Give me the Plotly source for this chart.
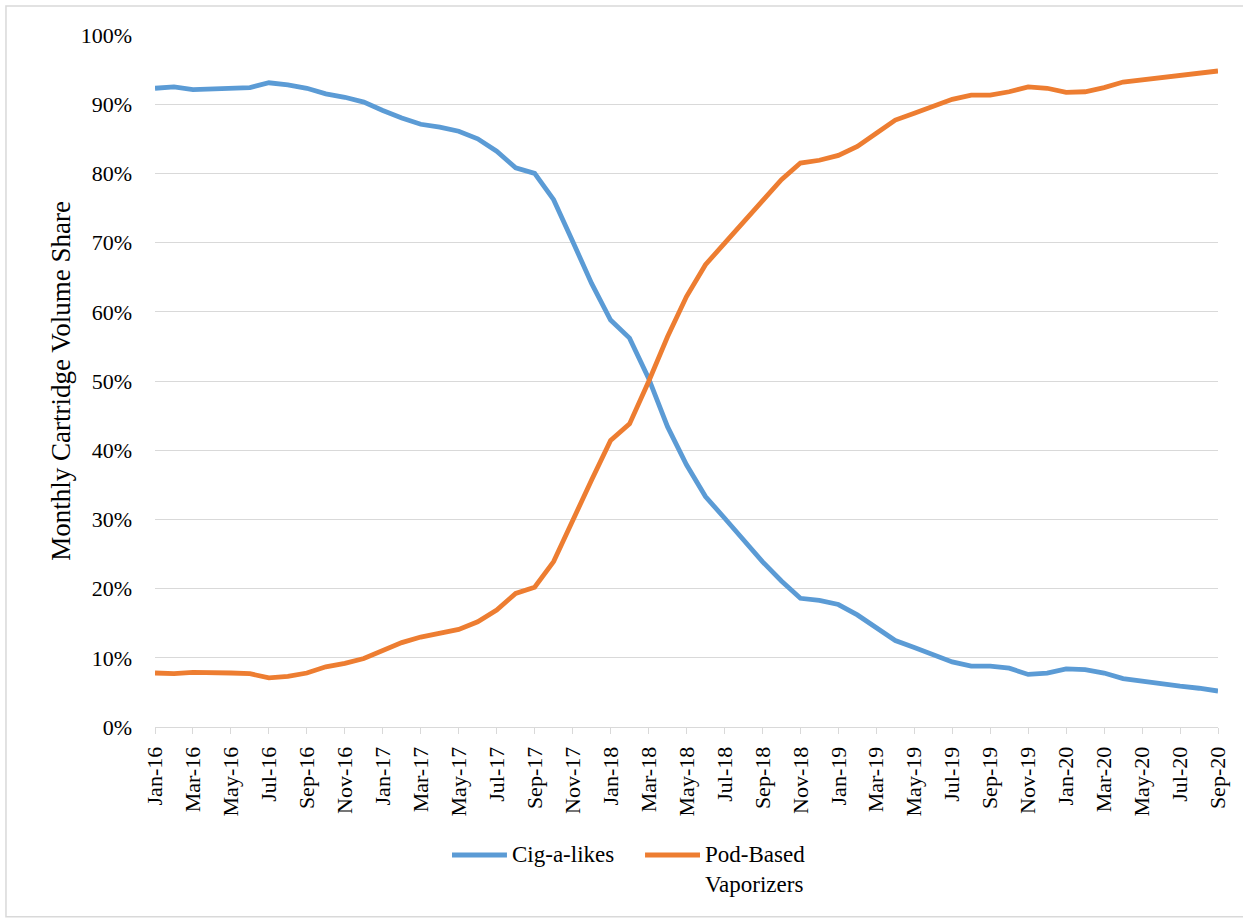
import plotly.graph_objects as go

# Monthly categories, Jan-16 .. Sep-20
months = [
    "Jan-16", "Feb-16", "Mar-16", "Apr-16", "May-16", "Jun-16", "Jul-16", "Aug-16", "Sep-16", "Oct-16", "Nov-16", "Dec-16",
    "Jan-17", "Feb-17", "Mar-17", "Apr-17", "May-17", "Jun-17", "Jul-17", "Aug-17", "Sep-17", "Oct-17", "Nov-17", "Dec-17",
    "Jan-18", "Feb-18", "Mar-18", "Apr-18", "May-18", "Jun-18", "Jul-18", "Aug-18", "Sep-18", "Oct-18", "Nov-18", "Dec-18",
    "Jan-19", "Feb-19", "Mar-19", "Apr-19", "May-19", "Jun-19", "Jul-19", "Aug-19", "Sep-19", "Oct-19", "Nov-19", "Dec-19",
    "Jan-20", "Feb-20", "Mar-20", "Apr-20", "May-20", "Jun-20", "Jul-20", "Aug-20", "Sep-20",
]

# Share of monthly cartridge volume (%)
cig_a_likes = [
    92.3, 92.5, 92.1, 92.2, 92.2, 92.4, 93.1, 92.8, 92.3, 91.5, 91.0, 90.3,
    89.1, 88.0, 87.1, 86.7, 86.1, 85.0, 83.2, 80.8, 80.0, 76.2, 70.2, 64.1,
    58.8, 56.2, 50.4, 43.4, 37.9, 33.3, 30.2, 27.0, 23.9, 21.1, 18.6, 18.3,
    17.7, 16.2, 14.3, 12.5, 11.5, 10.4, 9.4, 8.8, 8.8, 8.5, 7.6, 7.8,
    8.4, 8.3, 7.8, 7.0, 6.6, 6.3, 5.9, 5.6, 5.2,
]
pod_based = [
    7.8, 7.7, 7.9, 7.9, 7.8, 7.7, 7.1, 7.3, 7.8, 8.7, 9.2, 9.9,
    11.1, 12.2, 13.0, 13.5, 14.1, 15.2, 16.9, 19.3, 20.2, 23.9, 29.9, 35.7,
    41.4, 43.8, 49.9, 56.4, 62.2, 66.8, 69.9, 73.0, 76.2, 79.1, 81.5, 81.9,
    82.6, 83.9, 85.8, 87.7, 88.7, 89.7, 90.7, 91.3, 91.3, 91.8, 92.5, 92.3,
    91.7, 91.8, 92.4, 93.2, 93.5, 93.8, 94.2, 94.5, 94.8,
]

series_names = ["Cig-a-likes", "Pod-Based<br>Vaporizers"]
series_colors = ["#5B9BD5", "#ED7D31"]

FONT = "Liberation Serif, Times New Roman, serif"
LINE_W = 4.8

fig = go.Figure()
for name, vals, color in zip(series_names, [cig_a_likes, pod_based], series_colors):
    fig.add_trace(go.Scatter(
        x=months,
        y=[v / 100 for v in vals],
        mode="lines",
        name=name,
        showlegend=False,
        line=dict(color=color, width=LINE_W),
    ))

# Legend drawn below the plot: a line sample followed by its label
legend_slots = [(0.2794, 0.3311), (0.4610, 0.5127)]
legend_y = -0.185
shapes = []
annotations = []
for (x0, x1), name, color in zip(legend_slots, series_names, series_colors):
    shapes.append(dict(
        type="line", xref="paper", yref="paper",
        x0=x0, x1=x1, y0=legend_y, y1=legend_y,
        line=dict(color=color, width=LINE_W),
    ))
    annotations.append(dict(
        xref="paper", yref="paper",
        x=x1 + 0.0025, y=legend_y + 0.021,
        xanchor="left", yanchor="top", align="left",
        text=name, showarrow=False,
        font=dict(family=FONT, size=23, color="#000000"),
    ))

# Outer chart frame
shapes.append(dict(
    type="rect", xref="paper", yref="paper",
    x0=-0.1402, x1=1.06, y0=-0.2741, y1=1.0419,
    line=dict(color="#D9D9D9", width=1.5),
    fillcolor="rgba(0,0,0,0)",
    layer="below",
))

fig.update_layout(
    width=1243,
    height=918,
    margin=dict(l=155, r=25, t=35, b=191),
    paper_bgcolor="white",
    plot_bgcolor="white",
    font=dict(family=FONT, color="#000000", size=22),
    showlegend=False,
    xaxis=dict(
        type="category",
        range=[0, len(months) - 1],
        tickvals=months[::2],
        ticktext=months[::2],
        tickangle=-90,
        ticks="outside",
        ticklen=6,
        tickcolor="#D9D9D9",
        showline=True,
        linecolor="#D9D9D9",
        linewidth=1,
        showgrid=False,
        zeroline=False,
        tickfont=dict(family=FONT, size=22),
        ticklabelstandoff=4,
    ),
    yaxis=dict(
        range=[0, 1],
        dtick=0.1,
        tickformat=".0%",
        showgrid=True,
        gridcolor="#D9D9D9",
        gridwidth=1,
        zeroline=False,
        showline=False,
        ticks="",
        tickfont=dict(family=FONT, size=22),
        ticklabelstandoff=22,
        title=dict(
            text="Monthly Cartridge Volume Share",
            font=dict(family=FONT, size=27),
            standoff=2,
        ),
    ),
    shapes=shapes,
    annotations=annotations,
)

fig.write_html("out.html")
